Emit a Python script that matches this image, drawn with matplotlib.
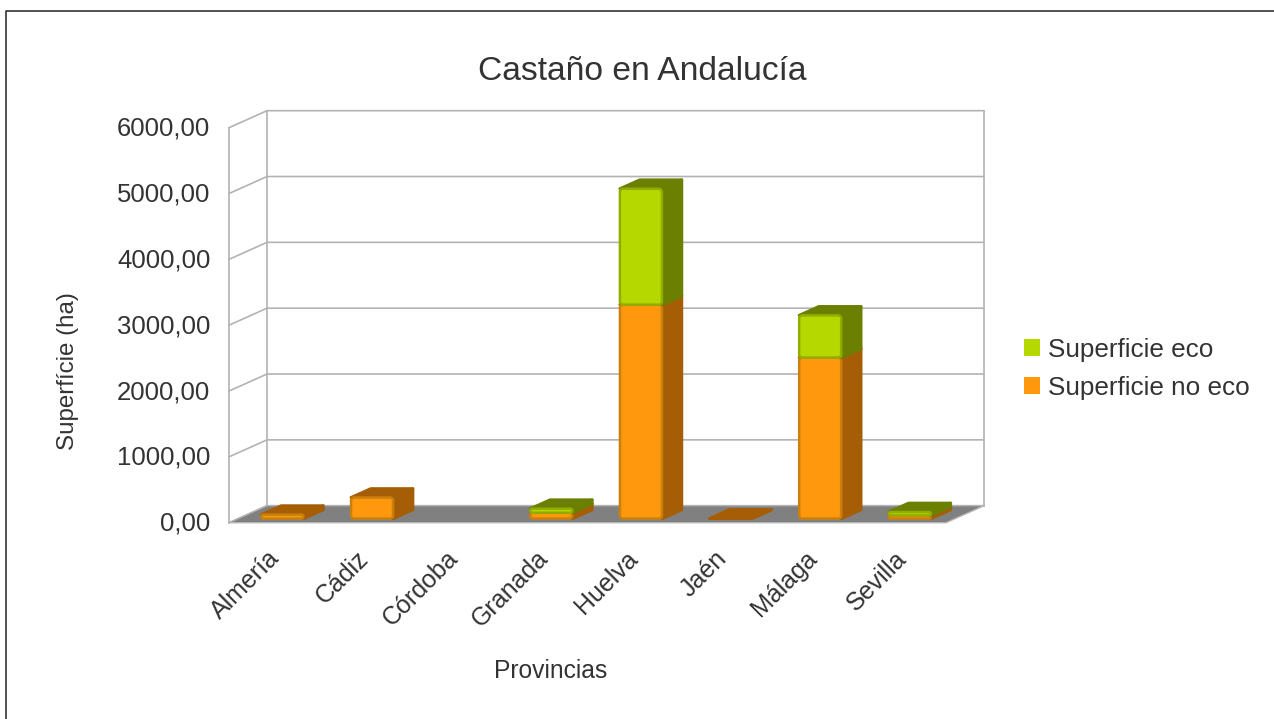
import matplotlib
matplotlib.use("Agg")
import matplotlib.pyplot as plt
from matplotlib.lines import Line2D
from matplotlib.patches import FancyBboxPatch, Polygon, Patch
from matplotlib.transforms import ScaledTranslation

provincias = ["Almería", "Cádiz", "Córdoba", "Granada", "Huelva", "Jaén", "Málaga", "Sevilla"]
no_eco = [60, 320, 0, 90, 3250, 2, 2447, 50]
eco = [0, 0, 0, 60, 1760, 0, 640, 50]
yticks = [0, 1000, 2000, 3000, 4000, 5000, 6000]

W, H = 1274, 719
NARANJA = ("#ff980c", "#a65e06", "#c8800f")
VERDE = ("#b5d900", "#6b7f00", "#92ad00")
GRID = "#b3b3b3"
TEXTO = "#333333"

# depth of the fake 3d box, in data units (one category wide, 1000 ha high)
PX_X = 1 / 89.6
PX_Y = 1000 / 65.8
DX = 38 * PX_X
DY = 17 * PX_Y


def depth(x, y, d):
    return (x + d * DX, y + d * DY)


def draw_bar(ax, i, bottom, top, colors, z):
    x0 = i + 0.5 - 21.5 * PX_X
    x1 = x0 + 42 * PX_X
    d0, d1 = 0.24, 0.76
    side = [depth(x1, bottom, d0), depth(x1, bottom, d1), depth(x1, top, d1), depth(x1, top, d0)]
    lid = [depth(x0, top, d0), depth(x1, top, d0), depth(x1, top, d1), depth(x0, top, d1)]
    for pts in (side, lid):
        ax.add_patch(Polygon(pts, closed=True, fc=colors[1], ec=colors[1], lw=2.2, joinstyle="round",
                             zorder=z, clip_on=False))
    if top - bottom < 20:
        return
    fx, fy = depth(x0, bottom, d0)
    r = min(3, (top - bottom) / PX_Y / 2) * PX_X
    ax.add_patch(FancyBboxPatch((fx, fy), x1 - x0, top - bottom,
                                boxstyle=f"round,pad=0,rounding_size={r}", mutation_aspect=PX_Y / PX_X,
                                fc=colors[0], ec=colors[2], lw=1.8, zorder=z + 0.1, clip_on=False))


plt.rcParams["font.family"] = ["Liberation Sans", "DejaVu Sans"]
fig = plt.figure(figsize=(W / 100, H / 100), dpi=100)
# chart frame: only the top and left edges fall inside the picture
fig.add_artist(Line2D([6 / W, 6 / W, 1], [0, 1 - 11 / H, 1 - 11 / H], color="#222222", lw=1.1))

ax = fig.add_axes([229 / W, (H - 522.7) / H, (946 - 229) / W, (522.7 - 127.7) / H])
ax.set_xlim(0, len(provincias))
ax.set_ylim(0, 6000)
ax.patch.set_visible(False)
for s in ax.spines.values():
    s.set_visible(False)

n = len(provincias)
# floor and walls
ax.add_patch(Polygon([(0, 0), (n, 0), (n + DX, DY), (DX, DY)], closed=True, fc="#808080", ec=GRID, lw=1,
                     clip_on=False, zorder=1))
for v in yticks:
    ax.plot([0, DX, n + DX], [v, v + DY, v + DY], color=GRID, lw=1.2, clip_on=False, zorder=0.5)
ax.plot([0, 0], [0, 6000], color=GRID, lw=1.2, clip_on=False, zorder=0.5)
ax.plot([DX, DX], [DY, 6000 + DY], color=GRID, lw=1.2, clip_on=False, zorder=0.5)
ax.plot([n + DX, n + DX], [DY, 6000 + DY], color=GRID, lw=1.2, clip_on=False, zorder=0.5)

for i in range(n):
    z = 2 + i
    if no_eco[i] > 0:
        draw_bar(ax, i, 0, no_eco[i], NARANJA, z)
    if eco[i] > 0:
        draw_bar(ax, i, no_eco[i], no_eco[i] + eco[i], VERDE, z + 0.3)

ax.set_yticks(yticks)
ax.set_yticklabels([f"{v},00" for v in yticks], fontsize=18.5, color=TEXTO)
ax.set_xticks([i + 0.5 for i in range(n)])
ax.set_xticklabels(provincias, fontsize=18, color=TEXTO, rotation=45, ha="right", rotation_mode="anchor")
ax.tick_params(axis="both", length=0)
ax.tick_params(axis="y", pad=13.5)
ax.tick_params(axis="x", pad=17)
shift_x = ScaledTranslation(-7 / 100, 0, fig.dpi_scale_trans)
for lab in ax.get_xticklabels():
    lab.set_transform(lab.get_transform() + shift_x)
shift_y = ScaledTranslation(0, 1.5 / 100, fig.dpi_scale_trans)
for lab in ax.get_yticklabels():
    lab.set_transform(lab.get_transform() + shift_y)

fig.text(642 / W, 1 - 71 / H, "Castaño en Andalucía", fontsize=24.2, color=TEXTO, ha="center", va="center")
fig.text(68 / W, 1 - 371 / H, "Superfície (ha)", fontsize=17.4, color=TEXTO, rotation=90, ha="center", va="center")
fig.text(551 / W, 1 - 671 / H, "Provincias", fontsize=17.7, color=TEXTO, ha="center", va="center")

handles = [Patch(fc=VERDE[0], ec="none", label="Superficie eco"),
           Patch(fc=NARANJA[0], ec="none", label="Superficie no eco")]
fig.legend(handles=handles, loc="center left", bbox_to_anchor=(1024 / W, 1 - 369 / H), frameon=False,
           fontsize=18.8, handlelength=0.61, handleheight=0.61, handletextpad=0.31, labelspacing=0.534,
           borderpad=0, borderaxespad=0, labelcolor=TEXTO)

fig.savefig("out.png", dpi=100)
